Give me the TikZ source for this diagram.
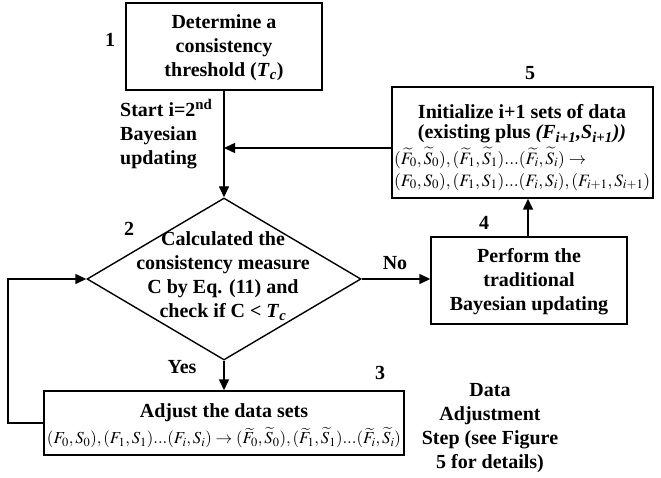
\documentclass[tikz,border=0pt]{standalone}
\usepackage{mathptmx}
\usepackage[no-math]{fontspec}
\setmainfont{Liberation Serif}
\usepackage{graphicx}
\usetikzlibrary{arrows.meta,shapes.geometric}
\tikzset{
  box/.style={draw, line width=1.4pt, rectangle, inner sep=0pt},
  dia/.style={draw, line width=1.4pt, diamond, inner sep=0pt, minimum width=274pt, minimum height=162pt},
  txt/.style={font=\fontsize{20}{24}\selectfont\bfseries, align=center, inner sep=0pt},
  mth/.style={font=\fontsize{16}{20}\selectfont, inner sep=0pt},
  arr/.style={line width=1.4pt, -{Triangle[length=11pt,width=10pt]}},
  ln/.style={line width=1.4pt}
}
\begin{document}
\begin{tikzpicture}[x=1pt,y=-1pt]
\useasboundingbox (0,0) rectangle (661,478);
% boxes
\node[box, minimum width=196pt, minimum height=87pt] (b1) at (224,46.5) {};
\node[dia] (d) at (224,279) {};
\node[box, minimum width=360pt, minimum height=64pt] (b3) at (224,423) {};
\node[box, minimum width=196pt, minimum height=87pt] (b4) at (529,280.5) {};
\node[box, minimum width=261pt, minimum height=111pt] (b5) at (522.5,142.5) {};
% texts
\node[txt] (t1) at (224,48) {Determine a\\consistency\\threshold (\textit{T}\textsubscript{\textit{c}})};
\node[txt] (t2) at (223,276) {Calculated the\\consistency measure\\C by Eq. (11) and\\check if C < \textit{T}\textsubscript{\textit{c}}};
\node[txt] (t3a) at (224,413) {Adjust the data sets};
\node[mth] (t3b) at (224,438) {\resizebox{354pt}{!}{$(F_0,S_0),(F_1,S_1)...(F_i,S_i)\rightarrow(\widetilde{F}_0,\widetilde{S}_0),(\widetilde{F}_1,\widetilde{S}_1)...(\widetilde{F}_i,\widetilde{S}_i)$}};
\node[txt] (t4) at (529,282) {Perform the\\traditional\\Bayesian updating};
\node[txt] (t5a) at (522,112) {Initialize i+1 sets of data};
\node[txt] (t5b) at (522,134) {(existing plus \textit{(F}\textsubscript{\textit{i+1}}\textit{,S}\textsubscript{\textit{i+1}}\textit{))}};
\node[mth, anchor=west] (t5c) at (394,158) {\resizebox{192pt}{!}{$(\widetilde{F}_0,\widetilde{S}_0),(\widetilde{F}_1,\widetilde{S}_1)...(\widetilde{F}_i,\widetilde{S}_i)\rightarrow$}};
\node[mth, anchor=west] (t5d) at (394,182) {\resizebox{256pt}{!}{$(F_0,S_0),(F_1,S_1)...(F_i,S_i),(F_{i+1},S_{i+1})$}};
\node[txt] (tdata) at (490,428) {Data\\Adjustment\\Step (see Figure\\5 for details)};
\node[txt, align=left, anchor=west] (tstart) at (120,134) {Start i=2\textsuperscript{nd}\\Bayesian\\updating};
% labels
\node[txt] (l1) at (110,40) {1};
\node[txt] (l2) at (129,229) {2};
\node[txt] (l3) at (380,373) {3};
\node[txt] (l4) at (484,223) {4};
\node[txt] (l5) at (530,73) {5};
\node[txt] (lno) at (395,263) {No};
\node[txt] (lyes) at (182,367) {Yes};
% connectors
\coordinate (j) at (224,148);
\draw[arr] (b1.south) -- (d.north);
\draw[arr] (b5.west |- j) -- (j);
\draw[arr] (d.south) -- (b3.north);
\draw[arr] (d.east) -- (b4.west |- d.east);
\draw[arr] (b4.north -| 528,0) -- (b5.south -| 528,0);
\draw[arr] (b3.west) -- (8,423) |- (d.west);
\end{tikzpicture}
\end{document}
